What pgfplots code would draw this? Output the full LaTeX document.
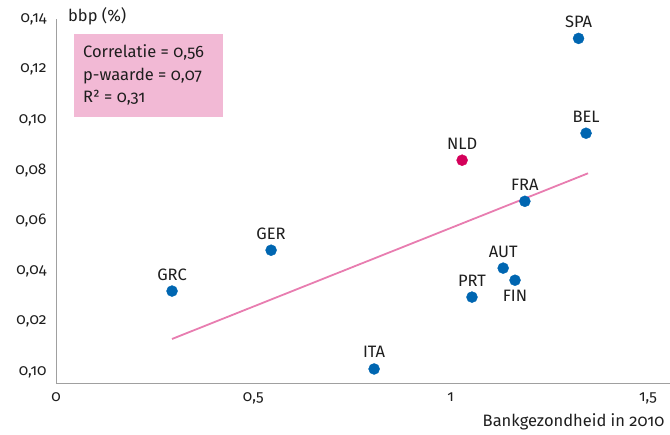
\documentclass[border=0pt]{standalone}
\usepackage{fontspec}
\setmainfont{Fira Sans}[Numbers=OldStyle]
\usepackage{pgfplots}
\pgfplotsset{compat=1.18}
\definecolor{dotblue}{HTML}{0066B1}
\definecolor{nldred}{HTML}{D4005A}
\definecolor{trendpink}{HTML}{E87DB0}
\definecolor{boxpink}{HTML}{F2B9D5}
\definecolor{axgray}{HTML}{A0A0A0}
\definecolor{txt}{HTML}{1E1E1E}
\begin{document}
\fontsize{16pt}{18pt}\selectfont
\begin{tikzpicture}
\begin{axis}[
  scale only axis,
  width=614pt, height=364pt,
  xmin=0, xmax=1.5557,
  ymin=-0.00436, ymax=0.14,
  axis x line*=bottom, axis y line*=left,
  axis line style={axgray, line width=0.8pt},
  major tick length=0pt,
  xtick={0,0.5,1,1.5},
  xticklabels={0,{0,5},1,{1,5}},
  ytick={0,0.02,0.04,0.06,0.08,0.1,0.12,0.14},
  yticklabels={{0,10},{0,02},{0,04},{0,06},{0,08},{0,10},{0,12},{0,14}},
  /pgf/number format/assume math mode=true,
  tick label style={font=\fontsize{15.5pt}{18pt}\selectfont, text=txt},
  yticklabel style={xshift=-4pt},
  xticklabel style={anchor=base, yshift=-19pt},
  clip=false,
  nodes near coords,
  point meta=explicit symbolic,
  every node near coord/.style={font=\fontsize{16.5pt}{18pt}\selectfont, text=txt, anchor=base, yshift=11pt},
]
\addplot[trendpink, line width=1.8pt, nodes near coords={}] coordinates {(0.294,0.0131) (1.348,0.0788)};
\addplot[only marks, mark=*, mark size=5.5pt, color=dotblue] table[meta=label] {
x y label
1.324 0.1323 SPA
1.343 0.0947 BEL
1.188 0.0677 FRA
1.133 0.0412 AUT
1.054 0.0297 PRT
0.545 0.0483 GER
0.294 0.0321 GRC
0.806 0.0012 ITA
};
\addplot[only marks, mark=*, mark size=5.5pt, color=dotblue, every node near coord/.append style={yshift=-32pt}] table[meta=label] {
x y label
1.163 0.0364 FIN
};
\addplot[only marks, mark=*, mark size=5.5pt, color=nldred] table[meta=label] {
x y label
1.029 0.084 NLD
};
\node[anchor=base west, font=\fontsize{16.5pt}{18pt}\selectfont, text=txt, inner sep=0pt] at (rel axis cs:0.0195,1) [yshift=-3pt] {bbp (\%)};
\node[fill=boxpink, anchor=north west, minimum width=149pt, minimum height=83pt, inner sep=0pt] (box) at (rel axis cs:0.0293,0.9588) {};
\node[anchor=base west, font=\fontsize{16.5pt}{18pt}\selectfont, text=txt, inner sep=0pt] at ([xshift=9pt,yshift=-24pt]box.north west) {Correlatie = 0,56};
\node[anchor=base west, font=\fontsize{16.5pt}{18pt}\selectfont, text=txt, inner sep=0pt] at ([xshift=9pt,yshift=-47pt]box.north west) {p-waarde = 0,07};
\node[anchor=base west, font=\fontsize{16.5pt}{18pt}\selectfont, text=txt, inner sep=0pt] at ([xshift=9pt,yshift=-69pt]box.north west) {R² = 0,31};
\node[anchor=base east, font=\fontsize{16.5pt}{18pt}\selectfont, text=txt, inner sep=0pt] at (rel axis cs:0.991,0) [yshift=-44pt] {Bankgezondheid in 2010};
\end{axis}
\pgfresetboundingbox
\path[use as bounding box] (-56pt,-52pt) rectangle (614pt,383pt);
\end{tikzpicture}
\end{document}
